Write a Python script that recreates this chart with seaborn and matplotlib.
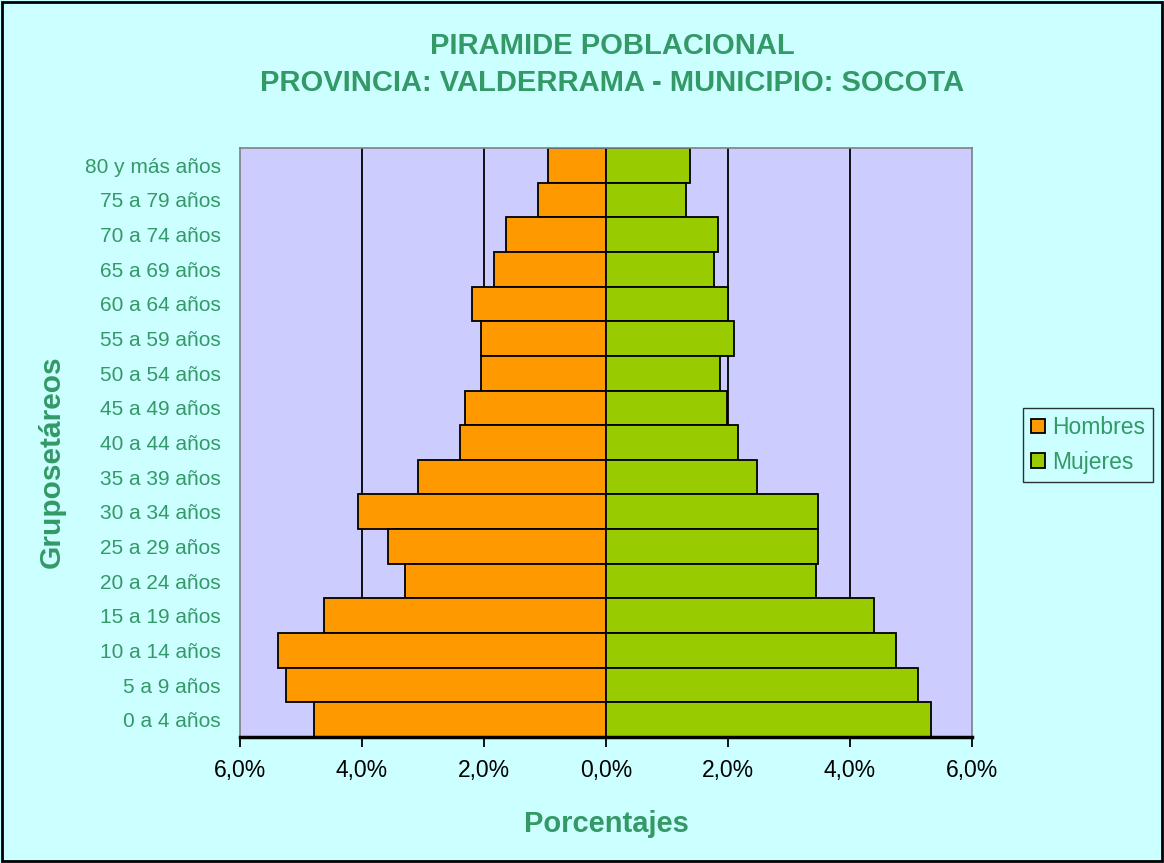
import matplotlib
matplotlib.use("Agg")
import matplotlib.pyplot as plt
import seaborn as sns
import pandas as pd
from matplotlib.ticker import FuncFormatter
from matplotlib.patches import Rectangle, Patch

grupos = ["80 y más años", "75 a 79 años", "70 a 74 años", "65 a 69 años", "60 a 64 años",
          "55 a 59 años", "50 a 54 años", "45 a 49 años", "40 a 44 años", "35 a 39 años",
          "30 a 34 años", "25 a 29 años", "20 a 24 años", "15 a 19 años", "10 a 14 años",
          "5 a 9 años", "0 a 4 años"]
hombres = [0.95, 1.12, 1.64, 1.84, 2.20, 2.05, 2.05, 2.32, 2.40, 3.08,
           4.06, 3.57, 3.30, 4.63, 5.38, 5.24, 4.78]
mujeres = [1.38, 1.31, 1.84, 1.77, 2.00, 2.10, 1.87, 1.98, 2.17, 2.47,
           3.48, 3.48, 3.44, 4.40, 4.75, 5.12, 5.32]

sns.set_theme(style="white")
plt.rcParams['font.family'] = ['Liberation Sans', 'DejaVu Sans']

green_txt = "#339966"
df = pd.DataFrame({
    "grupo": grupos * 2,
    "valor": [-h for h in hombres] + mujeres,
    "sexo": ["Hombres"] * len(grupos) + ["Mujeres"] * len(grupos),
})

fig = plt.figure(figsize=(11.64, 8.63), dpi=100, facecolor="#CCFFFF")
ax = fig.add_axes([0.2062, 0.146, 0.6289, 0.6825])
ax.set_facecolor("#CCCCFF")

for x in [-4, -2, 2, 4]:
    ax.axvline(x, color="black", lw=1.3, zorder=0)

sns.barplot(data=df, x="valor", y="grupo", hue="sexo", order=grupos,
            palette={"Hombres": "#FF9900", "Mujeres": "#99CC00"}, saturation=1,
            dodge=False, width=1.0, edgecolor="black", linewidth=1.3,
            orient="h", ax=ax, legend=False, zorder=2)

ax.set_xlim(-6, 6)
ax.set_ylim(len(grupos) - 0.5, -0.5)
ax.set_xticks([-6, -4, -2, 0, 2, 4, 6])
ax.xaxis.set_major_formatter(FuncFormatter(lambda v, p: f"{abs(v):.1f}%".replace(".", ",")))
ax.tick_params(axis="x", which="both", bottom=True, length=7, width=1.3, colors="black",
               labelsize=16.5, pad=9)
ax.tick_params(axis="y", left=False, labelsize=15, labelcolor=green_txt, pad=8)
for lab in ax.get_xticklabels():
    lab.set_color("black")

for side in ["top", "right", "left"]:
    ax.spines[side].set_color("#808080")
    ax.spines[side].set_linewidth(1.2)
ax.spines["bottom"].set_color("black")
ax.spines["bottom"].set_linewidth(2.5)

ax.set_xlabel("Porcentajes", fontsize=21, fontweight="bold", color=green_txt, labelpad=20)
ax.set_ylabel("Gruposetáreos", fontsize=21.5, fontweight="bold", color=green_txt)
ax.yaxis.set_label_coords(-0.238, 0.467)

fig.text(0.526, 0.947, "PIRAMIDE POBLACIONAL", ha="center", va="center",
         fontsize=21, fontweight="bold", color=green_txt)
fig.text(0.526, 0.904, "PROVINCIA: VALDERRAMA - MUNICIPIO: SOCOTA", ha="center", va="center",
         fontsize=21, fontweight="bold", color=green_txt)

handles = [Patch(facecolor="#FF9900", edgecolor="black", lw=1.3, label="Hombres"),
           Patch(facecolor="#99CC00", edgecolor="black", lw=1.3, label="Mujeres")]
leg = fig.legend(handles=handles, loc="center left", bbox_to_anchor=(0.879, 0.4844),
                 frameon=True, fancybox=False, fontsize=16.5, handlelength=0.6,
                 handleheight=0.6, handletextpad=0.3, borderpad=0.35, labelspacing=0.5,
                 borderaxespad=0)
leg.get_frame().set_edgecolor("black")
leg.get_frame().set_facecolor("#CCFFFF")
leg.get_frame().set_linewidth(1.0)
for t in leg.get_texts():
    t.set_color(green_txt)

fig.patches.append(Rectangle((0.002, 0.002), 0.996, 0.996, transform=fig.transFigure,
                             fill=False, edgecolor="black", lw=2))

fig.savefig("out.png", dpi=100, facecolor=fig.get_facecolor())
